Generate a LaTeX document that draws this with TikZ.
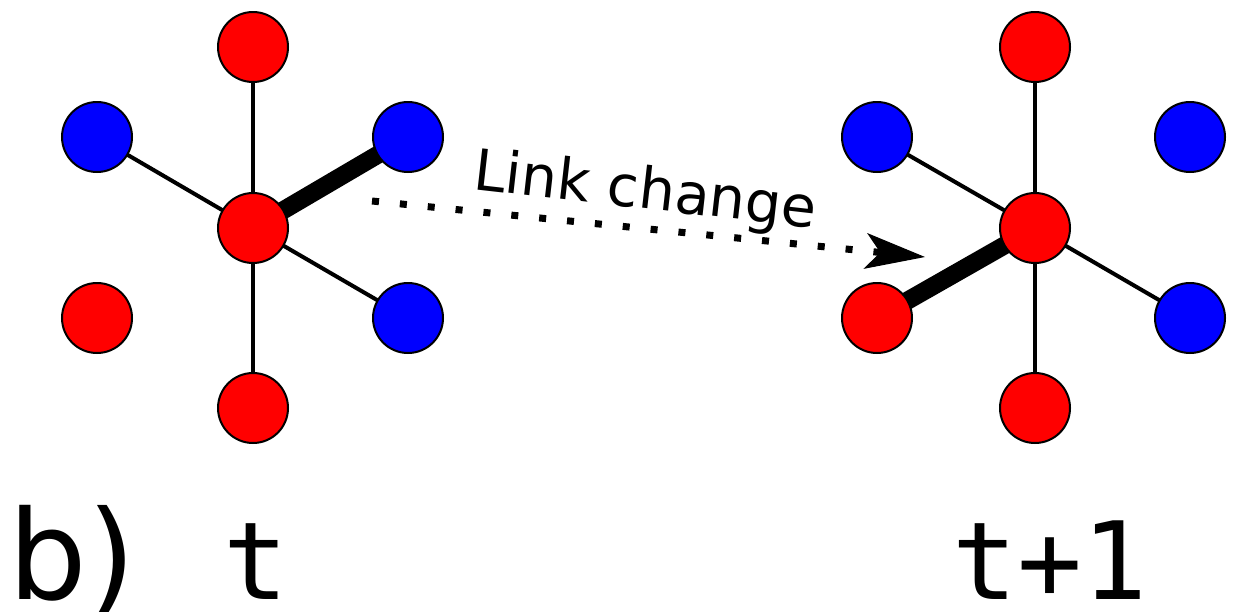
\documentclass[tikz,border=0pt]{standalone}
\usepackage{fontspec}
\setmainfont{DejaVu Sans}
\newfontfamily\monofont{DejaVu Sans Mono}
\usetikzlibrary{arrows.meta,backgrounds}
\definecolor{nred}{RGB}{255,0,0}
\definecolor{nblue}{RGB}{0,0,255}
\tikzset{
  vert/.style={circle,draw=black,line width=1pt,minimum size=35pt,inner sep=0pt},
  rv/.style={vert,fill=nred},
  bv/.style={vert,fill=nblue},
  thinedge/.style={line width=2pt},
  thickedge/.style={line width=9pt},
  biglbl/.style={inner sep=0pt,font=\fontsize{62}{70}\selectfont},
  monolbl/.style={inner sep=0pt,font=\monofont\fontsize{54}{60}\selectfont},
  changearrow/.style={line width=3.5pt,dash pattern=on 3.5pt off 10.5pt,
    -{Stealth[length=30pt,width=18pt,inset=7.5pt,line width=0.5pt]}}
}
\begin{document}
\begin{tikzpicture}[x=0.5pt,y=-0.5pt]
\useasboundingbox (0,0) rectangle (1237,611);
% left graph (t)
\node[rv] (lc) at (253,228) {};
\node[rv] (lt) at (253,47) {};
\node[rv] (lb) at (253,408) {};
\node[bv] (lul) at (97,137) {};
\node[bv] (lur) at (408,137) {};
\node[rv] (lll) at (97,318) {};
\node[bv] (llr) at (408,318) {};
% right graph (t+1)
\node[rv] (rc) at (1035,228) {};
\node[rv] (rt) at (1035,47) {};
\node[rv] (rb) at (1035,408) {};
\node[bv] (rul) at (877,137) {};
\node[bv] (rur) at (1190,137) {};
\node[rv] (rll) at (877,318) {};
\node[bv] (rlr) at (1190,318) {};
\begin{scope}[on background layer]
  \draw[thinedge] (lc.center) -- (lt.center);
  \draw[thinedge] (lc.center) -- (lb.center);
  \draw[thinedge] (lc.center) -- (lul.center);
  \draw[thinedge] (lc.center) -- (llr.center);
  \draw[thickedge] (lc.center) -- (lur.center);
  \draw[thinedge] (rc.center) -- (rt.center);
  \draw[thinedge] (rc.center) -- (rb.center);
  \draw[thinedge] (rc.center) -- (rul.center);
  \draw[thinedge] (rc.center) -- (rlr.center);
  \draw[thickedge] (rc.center) -- (rll.center);
\end{scope}
% link change arrow
\coordinate (as) at (372,201);
\coordinate (ae) at (925,257);
\draw[changearrow] (as) -- (ae);
\node[rotate=-6.5,inner sep=0pt,font=\fontsize{28.5}{32}\selectfont] (lcl) at (645,193) {Link change};
% labels
\node[biglbl,anchor=base west] (bl) at (8,599) {b)};
\node[monolbl,anchor=base] (tl) at (256,599) {t};
\node[monolbl,anchor=base] (tl1) at (1050,599) {t+1};
\end{tikzpicture}
\end{document}
